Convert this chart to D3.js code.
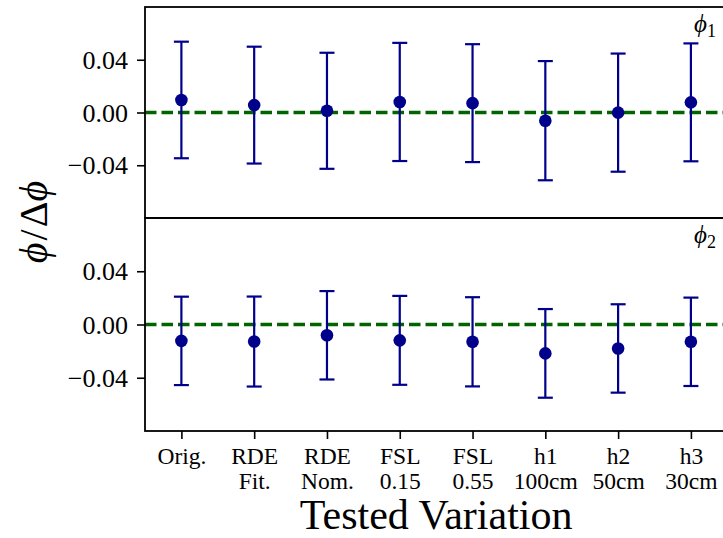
<!DOCTYPE html>
<html><head><meta charset="utf-8">
<script src="https://cdn.jsdelivr.net/npm/d3@7"></script>
<style>body{margin:0;background:#fff}svg{display:block}</style>
</head><body><svg id="c" width="723" height="538"></svg>
<script>
const categories = ["Orig.", "RDE\nFit.", "RDE\nNom.", "FSL\n0.15", "FSL\n0.55", "h1\n100cm", "h2\n50cm", "h3\n30cm"];
const phi1Values = [0.0095, 0.0056, 0.0013, 0.0080, 0.0071, -0.0062, -0.0001, 0.0077];
const phi1Errors = [0.0442, 0.0443, 0.0440, 0.0448, 0.0447, 0.0452, 0.0448, 0.0447];
const phi2Values = [-0.0123, -0.0128, -0.0081, -0.0119, -0.0130, -0.0217, -0.0180, -0.0130];
const phi2Errors = [0.0332, 0.0338, 0.0332, 0.0334, 0.0335, 0.0333, 0.0332, 0.0332];
const yTicks = [-0.04, 0.00, 0.04];
const yDomain = [-0.08, 0.08];
const panelSubscripts = ["1", "2"];
const xTitle = "Tested Variation";

(function () {
const svg = d3.select("#c");
const serif = "'Liberation Serif','DejaVu Serif',serif";
const navy = "#00008b", green = "#006400";
const L = 145, R = 727.3, T = 7, M = 218, B = 431;

const x = d3.scalePoint().domain(categories).range([L, R]).padding(0.5);
const panels = [
  {vals: phi1Values, errs: phi1Errors, y: d3.scaleLinear().domain(yDomain).range([M, T]), sub: panelSubscripts[0]},
  {vals: phi2Values, errs: phi2Errors, y: d3.scaleLinear().domain(yDomain).range([B, M]), sub: panelSubscripts[1]}
];
const fmt = v => (v < 0 ? "\u2212" : "") + Math.abs(v).toFixed(2);

panels.forEach((p) => {
  const g = svg.append("g");
  const [y0, y1] = p.y.range();
  g.append("line").attr("x1", L).attr("x2", R)
    .attr("y1", p.y(0)).attr("y2", p.y(0))
    .attr("stroke", green).attr("stroke-width", 3.3).attr("stroke-dasharray", "11.5,5");
  const eb = g.selectAll(".eb").data(categories).join("g");
  eb.append("line")
    .attr("x1", d => x(d)).attr("x2", d => x(d))
    .attr("y1", (d, i) => p.y(p.vals[i] + p.errs[i]))
    .attr("y2", (d, i) => p.y(p.vals[i] - p.errs[i]))
    .attr("stroke", navy).attr("stroke-width", 2.2);
  [1, -1].forEach(s => {
    eb.append("line")
      .attr("x1", d => x(d) - 7.5).attr("x2", d => x(d) + 7.5)
      .attr("y1", (d, i) => p.y(p.vals[i] + s * p.errs[i]))
      .attr("y2", (d, i) => p.y(p.vals[i] + s * p.errs[i]))
      .attr("stroke", navy).attr("stroke-width", 2.2);
  });
  eb.append("circle")
    .attr("cx", d => x(d)).attr("cy", (d, i) => p.y(p.vals[i]))
    .attr("r", 6.3).attr("fill", navy);
  const ya = g.append("g").attr("transform", `translate(${L},0)`)
    .call(d3.axisLeft(p.y).tickValues(yTicks).tickFormat(fmt).tickSize(8).tickPadding(9).tickSizeOuter(0));
  ya.attr("font-family", serif);
  ya.select(".domain").remove();
  ya.selectAll(".tick line").attr("stroke", "#000").attr("stroke-width", 1.6);
  ya.selectAll(".tick text").attr("font-family", serif).attr("font-size", 26).attr("fill", "#000").attr("dy", "0.33em");
  g.append("rect").attr("x", L).attr("y", y1).attr("width", R - L).attr("height", y0 - y1)
    .attr("fill", "none").attr("stroke", "#000").attr("stroke-width", 1.8);
  const t = g.append("text").attr("x", 716).attr("y", y1 + 25).attr("text-anchor", "end")
    .attr("font-family", serif).attr("font-size", 25).attr("fill", "#000");
  t.append("tspan").attr("font-style", "italic").text("\u03d5");
  t.append("tspan").attr("font-size", 18).attr("dy", 5).text(p.sub);
});

const xa = svg.append("g").attr("transform", `translate(0,${B})`)
  .call(d3.axisBottom(x).tickSize(8).tickSizeOuter(0).tickFormat(""));
xa.select(".domain").remove();
xa.selectAll(".tick line").attr("stroke", "#000").attr("stroke-width", 1.6);
xa.selectAll(".tick").each(function(d) {
  const lines = d.split("\n");
  const tx = d3.select(this).append("text").attr("text-anchor", "middle")
    .attr("font-family", serif).attr("font-size", 23.5).attr("fill", "#000");
  lines.forEach((l, i) => tx.append("tspan").attr("x", 0).attr("y", 33 + i * 25).text(l));
});

svg.append("text").attr("x", L + (R - L) / 2).attr("y", 528.5)
  .attr("text-anchor", "middle").attr("font-family", serif).attr("font-size", 42).attr("fill", "#000")
  .text(xTitle);
const yl = svg.append("text").attr("transform", `translate(47,${(T + B) / 2 + 3}) rotate(-90)`)
  .attr("text-anchor", "middle").attr("font-family", serif).attr("font-size", 40).attr("fill", "#000");
yl.append("tspan").attr("font-style", "italic").text("\u03d5");
yl.append("tspan").attr("dx", 2).text("/");
yl.append("tspan").attr("dx", 2).text("\u0394");
yl.append("tspan").attr("font-style", "italic").text("\u03d5");
})();
</script></body></html>
